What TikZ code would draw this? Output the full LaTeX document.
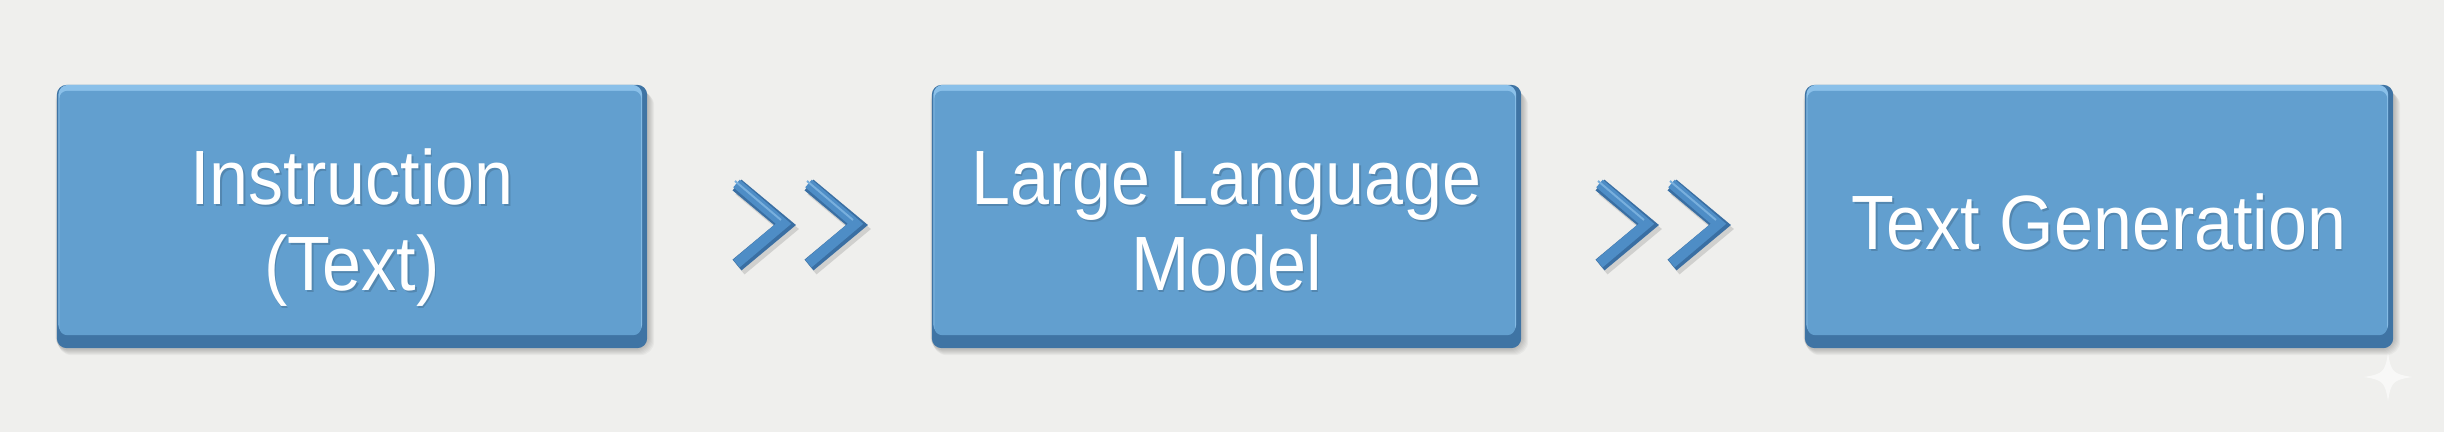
\documentclass[tikz,border=0pt]{standalone}
\usepackage{fontspec}
\setmainfont{Liberation Sans}[FakeStretch=0.91]
\usetikzlibrary{calc}
\definecolor{bg}{HTML}{EFEFED}
\definecolor{boxdark}{HTML}{3F74A4}
\definecolor{boxlight}{HTML}{8AC0E9}
\definecolor{boxface}{HTML}{629FCF}
\definecolor{chevc}{HTML}{4E8DC6}
\definecolor{chevdark}{HTML}{3A6FA3}
\definecolor{chevlight}{HTML}{78AFDD}
\begin{document}
\begin{tikzpicture}[x=1pt,y=-1pt,
  boxpos/.style={rectangle, minimum width=590pt, minimum height=263pt, inner sep=0pt},
  lbl/.style={anchor=base, text=white, inner sep=0pt, font=\fontsize{77}{87}\selectfont},
  lblsh/.style={lbl, text=black, opacity=0.15},
  chevpath/.style={line width=14pt, line cap=butt, line join=miter, miter limit=10},
  chevron/.pic={
    \draw[chevpath, draw=black, opacity=0.13] (-45,-36) -- (3,4) -- (-45,44);
    \draw[chevpath, draw=chevdark] (-48,-40) -- (0,0) -- (-48,40);
    \draw[chevpath, line width=10pt, draw=chevc] (-48.5,-41.5) -- (-1.5,-1.2) -- (-48.5,38.5);
    \draw[line width=2pt, draw=chevlight, line cap=butt] (-50,-44) -- (-4,-5);
  }]
\fill[bg] (0,0) rectangle (2444,432);
\useasboundingbox (0,0) rectangle (2444,432);

\node[boxpos] (b1) at (352,216.5) {};
\node[boxpos, minimum width=589pt] (b2) at (1226.5,216.5) {};
\node[boxpos, minimum width=588pt] (b3) at (2099,216.5) {};

\foreach \b in {b1,b2,b3}{
  \foreach \i in {1,...,6}{
    \fill[black, opacity=0.035, rounded corners=14pt]
      ($(\b.north west)+(-2+0.5*\i,1+\i)$) rectangle ($(\b.south east)+(1+\i,1+\i)$);
  }
  \fill[boxdark, rounded corners=10pt] (\b.north west) rectangle (\b.south east);
  \fill[boxlight, rounded corners=10pt] ($(\b.north west)+(1.5,0)$) rectangle ($(\b.south east)+(-5,-14)$);
  \fill[boxface, rounded corners=8pt] ($(\b.north west)+(2.5,6)$) rectangle ($(\b.south east)+(-6,-13)$);
}

\pic at (785,225) {chevron};
\pic at (857,225) {chevron};
\pic at (1648,225) {chevron};
\pic at (1720,225) {chevron};

\node[lblsh] (s1a) at (353.5,206.5) {Instruction};
\node[lblsh] (s1b) at (353.5,292.5) {(Text)};
\node[lblsh] (s2a) at (1228,206.5) {Large Language};
\node[lblsh] (s2b) at (1228,292.5) {Model};
\node[lblsh] (s3) at (2100.5,251.5) {Text Generation};

\node[lbl] (t1a) at (352,204) {Instruction};
\node[lbl] (t1b) at (352,290) {(Text)};
\node[lbl] (t2a) at (1226.5,204) {Large Language};
\node[lbl] (t2b) at (1226.5,290) {Model};
\node[lbl] (t3) at (2099,249) {Text Generation};

\fill[white, opacity=0.6] (2388,353) .. controls (2391,372) and (2393,374) .. (2412,377)
  .. controls (2393,380) and (2391,382) .. (2388,401)
  .. controls (2385,382) and (2383,380) .. (2364,377)
  .. controls (2383,374) and (2385,372) .. (2388,353) -- cycle;
\end{tikzpicture}
\end{document}
